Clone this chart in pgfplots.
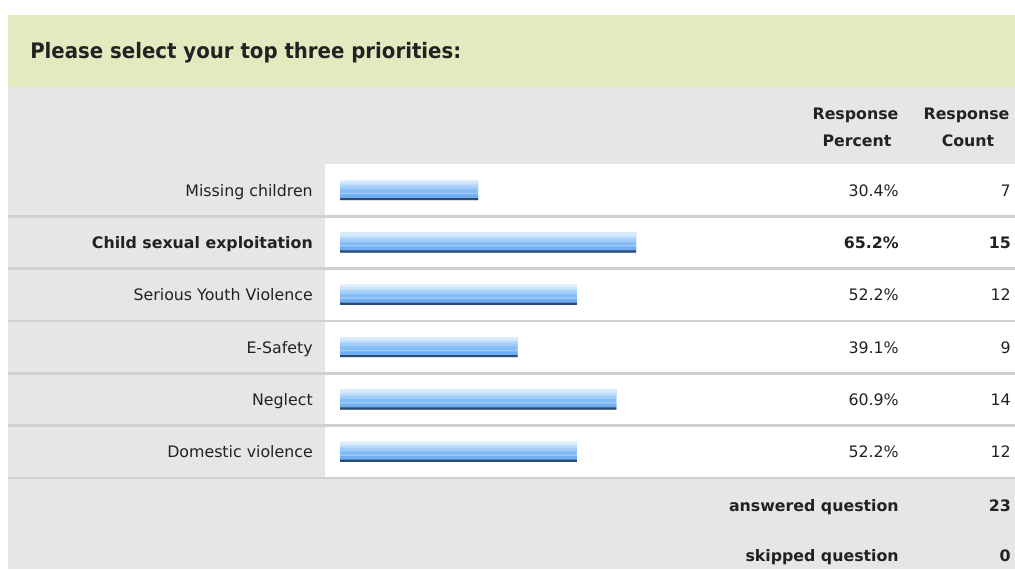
\documentclass[border=0pt]{standalone}
\usepackage{pgfplots}
\pgfplotsset{compat=1.18}
\usepackage{pgfplotstable}
\usepackage{fontspec}
\setmainfont{DejaVu Sans}
\newfontfamily\titlefont[FakeStretch=0.925]{DejaVu Sans}
\definecolor{band}{HTML}{E4EAC0}
\definecolor{panel}{HTML}{E6E6E6}
\definecolor{sep}{HTML}{D0D0D0}
\definecolor{txt}{HTML}{222222}
\definecolor{bdark}{HTML}{2C4A74}
\definecolor{b1}{HTML}{DDEEFE}
\definecolor{b2}{HTML}{CDE5FD}
\definecolor{b3}{HTML}{B5D8FB}
\definecolor{b4}{HTML}{A2CCF9}
\definecolor{b5}{HTML}{84BCF5}
\definecolor{b6}{HTML}{A0CBF8}
\definecolor{b7}{HTML}{6FAEF0}
\newcommand\body{\fontsize{11.85}{14}\selectfont}
\newcommand\ttl{\titlefont\fontsize{16}{19}\selectfont\bfseries}
\pgfplotstableread{
row pct count
1 30.4 7
2 65.2 15
3 52.2 12
4 39.1 9
5 60.9 14
6 52.2 12
}\datatable
\begin{document}
\begin{tikzpicture}
\begin{scope}[x=0.75pt,y=-0.75pt]
\useasboundingbox (0,0) rectangle (1015,569);
\fill[white] (0,0) rectangle (1015,569);
\fill[band] (8,15) rectangle (1015,87);
\fill[panel] (8,87) rectangle (1015,569);
\fill[white] (325,164) rectangle (1015,478);
\foreach \yy in {216.3,268.7,321,373.3,425.7,478}
  \draw[sep, line width=1.9pt] (8,\yy) -- (1015,\yy);
\node[anchor=base west, inner sep=0pt, text=txt, font=\ttl] at (30,58.5) {Please select your top three priorities:};
\node[anchor=base, inner sep=0pt, text=txt, font=\body\bfseries] at (855.5,119.5) {Response};
\node[anchor=base, inner sep=0pt, text=txt, font=\body\bfseries] at (857,146) {Percent};
\node[anchor=base, inner sep=0pt, text=txt, font=\body\bfseries] at (966.5,119.5) {Response};
\node[anchor=base, inner sep=0pt, text=txt, font=\body\bfseries] at (968,146) {Count};
\node[anchor=base east, inner sep=0pt, text=txt, font=\body\bfseries] at (899,511) {answered question};
\node[anchor=base east, inner sep=0pt, text=txt, font=\body\bfseries] at (1011,511) {23};
\node[anchor=base east, inner sep=0pt, text=txt, font=\body\bfseries] at (899,561.5) {skipped question};
\node[anchor=base east, inner sep=0pt, text=txt, font=\body\bfseries] at (1011,561.5) {0};
\end{scope}
\begin{axis}[
  at={(255pt,-123pt)}, anchor=north west,
  scale only axis, width=340.5pt, height=235.5pt,
  xmin=0, xmax=100, ymin=0.5, ymax=6.5,
  y dir=reverse, clip=false,
  axis line style={draw=none}, tick style={draw=none},
  major tick length=0pt,
  xtick=\empty, ytick={1,2,3,4,5,6},
  yticklabels={Missing children,\textbf{Child sexual exploitation},Serious Youth Violence,E-Safety,Neglect,Domestic violence},
  yticklabel style={anchor=base east, inner sep=0pt, xshift=-20.25pt, yshift=-4.5pt, font=\body, text=txt},
  bandbar/.style={xbar, draw=none, fill=#1},
]
% gradient bars built as horizontal bands (widths/shifts in px*0.75pt), slightly overlapping
\addplot[bandbar=b5, bar width=15pt, bar shift=0pt] table[x=pct, y=row]{\datatable};
\addplot[bandbar=b4, bar width=2.7pt, bar shift=1.875pt] table[x=pct, y=row]{\datatable};
\addplot[bandbar=b3, bar width=1.9pt, bar shift=3.75pt] table[x=pct, y=row]{\datatable};
\addplot[bandbar=b2, bar width=1.9pt, bar shift=5.25pt] table[x=pct, y=row]{\datatable};
\addplot[bandbar=b1, bar width=1.5pt, bar shift=6.75pt] table[x=pct, y=row]{\datatable};
\addplot[bandbar=b7, bar width=3.3pt, bar shift=-4.5pt] table[x=pct, y=row]{\datatable};
\addplot[bandbar=b6, bar width=0.9pt, bar shift=-2.625pt] table[x=pct, y=row]{\datatable};
\addplot[bandbar=bdark, bar width=1.6pt, bar shift=-6.7pt] table[x=pct, y=row]{\datatable};
\addplot[draw=none, mark=none, point meta=explicit symbolic,
  restrict expr to domain={abs(\coordindex-1)}{0.5:10},
  nodes near coords={\pgfplotspointmeta\%},
  every node near coord/.append style={anchor=base east, inner sep=0pt, yshift=-4.5pt, font=\body, text=txt}]
  table[x expr=123.13, y=row, meta=pct]{\datatable};
\addplot[draw=none, mark=none, point meta=explicit symbolic,
  restrict expr to domain={\coordindex}{1:1},
  nodes near coords={\pgfplotspointmeta\%},
  every node near coord/.append style={anchor=base east, inner sep=0pt, yshift=-4.5pt, font=\body\bfseries, text=txt}]
  table[x expr=123.13, y=row, meta=pct]{\datatable};
\addplot[draw=none, mark=none, point meta=explicit symbolic,
  restrict expr to domain={abs(\coordindex-1)}{0.5:10},
  nodes near coords={\pgfplotspointmeta},
  every node near coord/.append style={anchor=base east, inner sep=0pt, yshift=-4.5pt, font=\body, text=txt}]
  table[x expr=147.8, y=row, meta=count]{\datatable};
\addplot[draw=none, mark=none, point meta=explicit symbolic,
  restrict expr to domain={\coordindex}{1:1},
  nodes near coords={\pgfplotspointmeta},
  every node near coord/.append style={anchor=base east, inner sep=0pt, yshift=-4.5pt, font=\body\bfseries, text=txt}]
  table[x expr=147.8, y=row, meta=count]{\datatable};
\end{axis}
\end{tikzpicture}
\end{document}
